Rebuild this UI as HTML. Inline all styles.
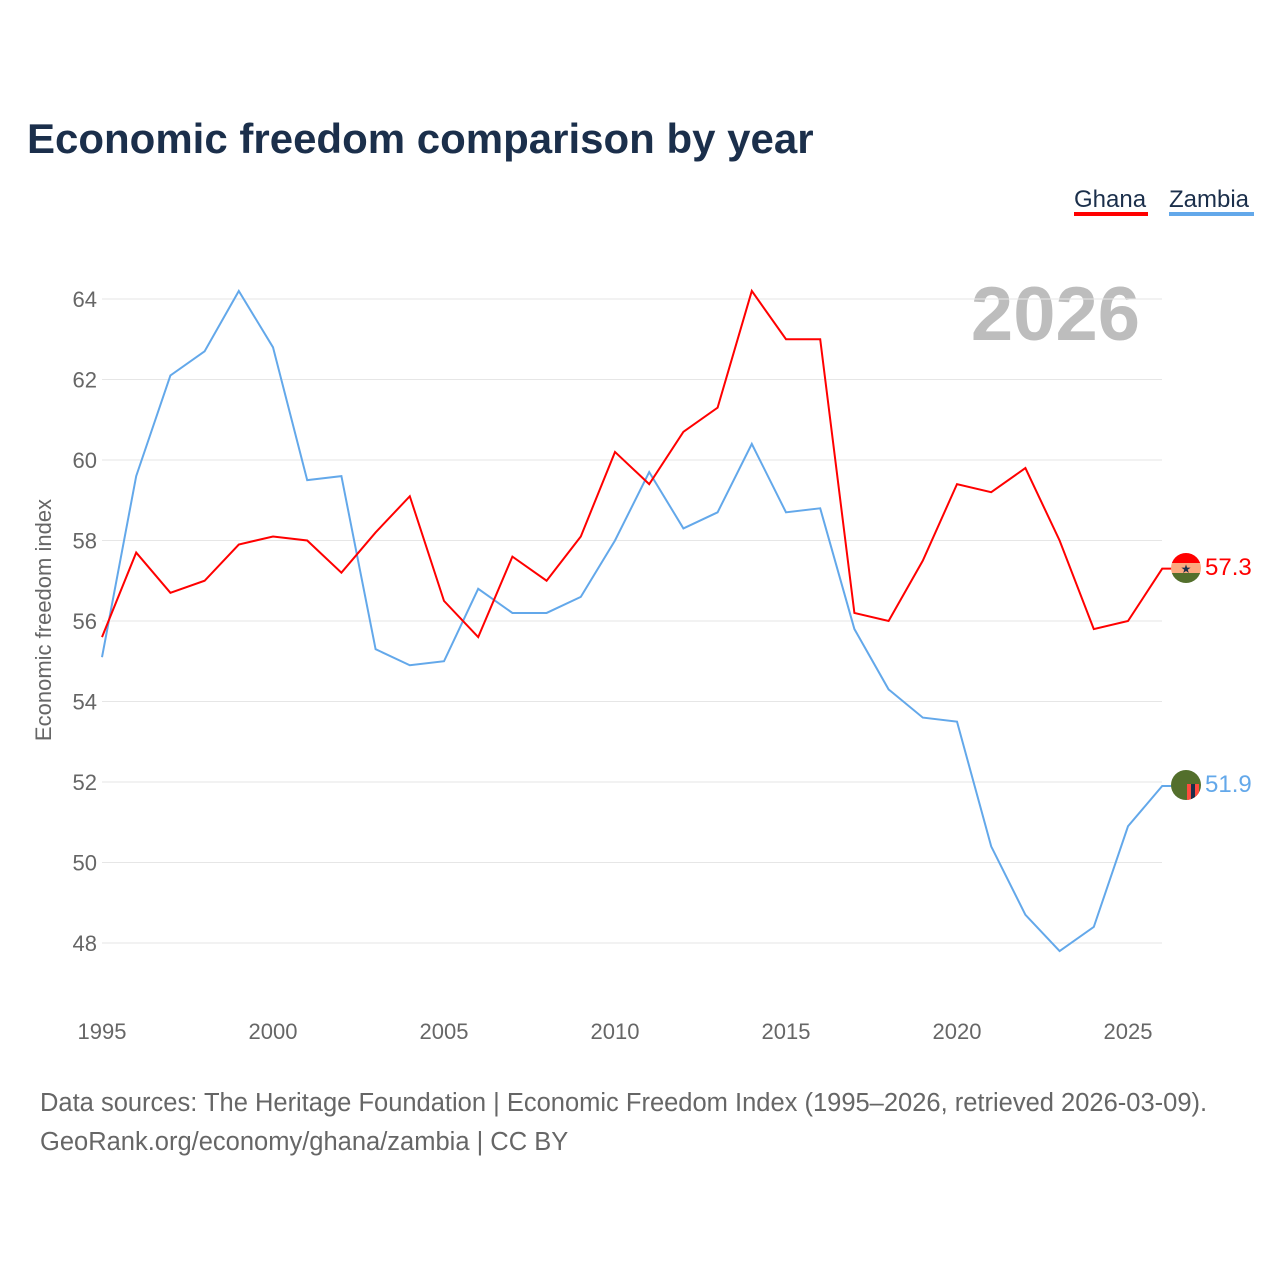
<!DOCTYPE html>
<html><head><meta charset="utf-8"><style>
body{margin:0;background:#fff;font-family:"Liberation Sans",sans-serif}
</style></head><body>
<svg width="1280" height="1280" xmlns="http://www.w3.org/2000/svg" style="font-family:'Liberation Sans',sans-serif">
<rect width="1280" height="1280" fill="#fff"/>
<text x="27" y="153" font-size="42" font-weight="bold" fill="#1b2f4b">Economic freedom comparison by year</text>
<g><text x="1074" y="207" font-size="24" fill="#1b2f4b">Ghana</text><rect x="1074" y="212" width="74" height="4" fill="#ff0000"/></g>
<g><text x="1169" y="207" font-size="24" fill="#1b2f4b">Zambia</text><rect x="1169" y="212" width="85" height="4" fill="#63a8ea"/></g>
<text x="1140" y="340" font-size="76" font-weight="bold" fill="#bdbdbd" text-anchor="end">2026</text>
<g id="grid"></g><g id="yt"></g><g id="xt"></g>
<text transform="translate(51,620) rotate(-90)" font-size="22" fill="#666" text-anchor="middle">Economic freedom index</text>
<g id="lines"></g>
<g>
<clipPath id="cg"><circle cx="1186" cy="568" r="15"/></clipPath>
<g clip-path="url(#cg)"><rect x="1171" y="553" width="30" height="10" fill="#ff0000"/><rect x="1171" y="563" width="30" height="10" fill="#fca97e"/><rect x="1171" y="573" width="30" height="10" fill="#536f2c"/></g>
<text x="1186" y="573" font-size="12" text-anchor="middle" fill="#1b2f4b">★</text></g>
<g>
<clipPath id="cz"><circle cx="1186" cy="785" r="15"/></clipPath>
<g clip-path="url(#cz)"><rect x="1171" y="770" width="30" height="30" fill="#536f2c"/><rect x="1187" y="784" width="4" height="16" fill="#ff4b3e"/><rect x="1191" y="784" width="4" height="16" fill="#1b2f4b"/><rect x="1195" y="784" width="4" height="16" fill="#ff4b3e"/></g></g>
<text x="1205" y="575" font-size="24" fill="#ff0000">57.3</text>
<text x="1205" y="792" font-size="24" fill="#63a8ea">51.9</text>
<text x="40" y="1111" font-size="25.5" fill="#666">Data sources: The Heritage Foundation | Economic Freedom Index (1995–2026, retrieved 2026-03-09).</text>
<text x="40" y="1150" font-size="25.5" fill="#666">GeoRank.org/economy/ghana/zambia | CC BY</text>
</svg>
<script>
const years=[1995,1996,1997,1998,1999,2000,2001,2002,2003,2004,2005,2006,2007,2008,2009,2010,2011,2012,2013,2014,2015,2016,2017,2018,2019,2020,2021,2022,2023,2024,2025,2026];
const ghana=[55.6,57.7,56.7,57.0,57.9,58.1,58.0,57.2,58.2,59.1,56.5,55.6,57.6,57.0,58.1,60.2,59.4,60.7,61.3,64.2,63.0,63.0,56.2,56.0,57.5,59.4,59.2,59.8,58.0,55.8,56.0,57.3];
const zambia=[55.1,59.6,62.1,62.7,64.2,62.8,59.5,59.6,55.3,54.9,55.0,56.8,56.2,56.2,56.6,58.0,59.7,58.3,58.7,60.4,58.7,58.8,55.8,54.3,53.6,53.5,50.4,48.7,47.8,48.4,50.9,51.9];
const yTicks=[48,50,52,54,56,58,60,62,64];
const xTicks=[1995,2000,2005,2010,2015,2020,2025];
const X=y=>102+(y-1995)*(1128-102)/30;
const Y=v=>943-(v-48)*(943-299)/16;
const NS='http://www.w3.org/2000/svg';
function mk(p,t,a){const e=document.createElementNS(NS,t);for(const k in a)e.setAttribute(k,a[k]);document.getElementById(p).appendChild(e);return e;}
yTicks.forEach(v=>{
 const l=mk('grid','line',{x1:102,x2:1162,y1:Y(v),y2:Y(v),stroke:'#e6e6e6'});
 
 
 const t=mk('yt','text',{x:97,y:Y(v)+8,'font-size':22,fill:'#666','text-anchor':'end'});t.textContent=v;
 
 
});
xTicks.forEach(v=>{
 const t=mk('xt','text',{x:X(v),y:1039,'font-size':22,fill:'#666','text-anchor':'middle'});t.textContent=v;
 
 
});
function line(d,c,n){
 const pts=d.map((v,i)=>X(years[i])+','+Y(v));
 pts.push('1175,'+Y(d[d.length-1]));
 const p=mk('lines','polyline',{points:pts.join(' '),fill:'none',stroke:c,'stroke-width':2});
 
 
}
line(zambia,'#63a8ea','zambia-line');
line(ghana,'#ff0000','ghana-line');
</script>
</body></html>
